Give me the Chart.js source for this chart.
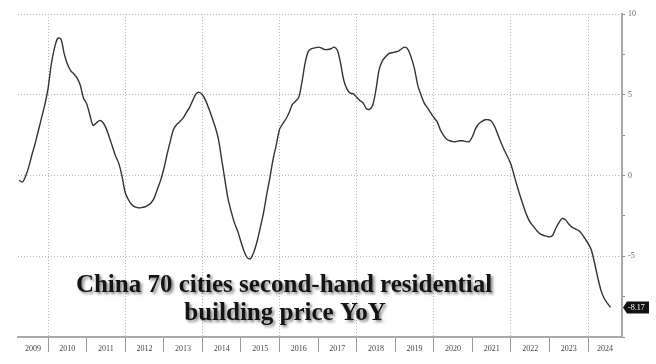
<!DOCTYPE html>
<html lang="en">
<head>
  <meta charset="UTF-8">
  <title>China 70 cities second-hand residential building price YoY</title>
  <style>
    body { margin: 0; background: #fff; }
    canvas { display: block; }
  </style>
</head>
<body>
  <canvas id="myChart" width="656" height="364"></canvas>

  <script src="https://cdn.jsdelivr.net/npm/chart.js"></script>
  <script>
    // monthly YoY %, starting April 2009
    const startYear = 2009
    const startMonth = 4
    const yoy = [
      -0.3, -0.4, -0.05, 0.55, 1.3, 2.0, 2.8, 3.6, 4.4,            // 2009
      5.4, 6.9, 7.9, 8.5, 8.45, 7.55, 6.9, 6.5, 6.3, 6.05, 5.6, 4.8, // 2010
      4.45, 3.75, 3.1, 3.25, 3.4, 3.3, 2.95, 2.4, 1.8, 1.2, 0.75, -0.05, // 2011
      -1.05, -1.5, -1.8, -1.95, -2.0, -1.99, -1.95, -1.85, -1.7, -1.4, -0.85, -0.3, // 2012
      0.4, 1.3, 2.1, 2.85, 3.15, 3.35, 3.55, 3.9, 4.2, 4.65, 5.05, 5.15, // 2013
      5.0, 4.65, 4.15, 3.6, 3.0, 2.25, 1.0, -0.25, -1.45, -2.25, -2.95, -3.45, // 2014
      -4.1, -4.7, -5.1, -5.15, -4.75, -4.1, -3.25, -2.35, -1.2, -0.15, 1.0, 1.9, // 2015
      2.85, 3.2, 3.5, 3.9, 4.4, 4.6, 4.85, 5.8, 7.0, 7.7, 7.85, 7.9, // 2016
      7.95, 7.9, 7.8, 7.8, 7.85, 7.95, 7.75, 6.95, 5.9, 5.35, 5.1, 5.05, // 2017
      4.85, 4.65, 4.5, 4.15, 4.1, 4.35, 5.3, 6.55, 7.1, 7.35, 7.55, 7.6, // 2018
      7.65, 7.7, 7.85, 7.95, 7.8, 7.3, 6.6, 5.6, 5.0, 4.5, 4.2, 3.9, // 2019
      3.6, 3.35, 2.85, 2.5, 2.25, 2.15, 2.1, 2.1, 2.15, 2.15, 2.1, 2.1, // 2020
      2.4, 2.9, 3.2, 3.35, 3.45, 3.45, 3.35, 3.0, 2.5, 2.0, 1.55, 1.15, // 2021
      0.7, 0.0, -0.7, -1.35, -1.95, -2.5, -2.9, -3.15, -3.4, -3.6, -3.7, -3.75, // 2022
      -3.8, -3.7, -3.25, -2.9, -2.65, -2.75, -3.0, -3.2, -3.3, -3.4, -3.6, -3.9, // 2023
      -4.2, -4.6, -5.4, -6.3, -7.1, -7.6, -7.9, -8.17              // 2024
    ]
    const years = [2009, 2010, 2011, 2012, 2013, 2014, 2015, 2016, 2017, 2018, 2019, 2020, 2021, 2022, 2023, 2024]
    const yTickLabels = [10, 5, 0, -5]
    const lastLabel = '-8.17'
    const titleLines = ['China 70 cities second-hand residential', 'building price YoY']

    const xMin = 2009.22
    const xMax = 2024.88

    const points = yoy.map( ( v, i ) => ( { x: startYear + ( startMonth - 1 + i ) / 12, y: v } ) )

    // year boundaries get separators, the middle of each visible year gets the label
    const boundaries = years.slice( 1 )
    const mids = years.map( yr => ( Math.max( yr, xMin ) + Math.min( yr + 1, xMax ) ) / 2 )
    const isBoundary = v => Number.isInteger( v )

    // last value tag + title
    const extras = {
      id: 'extras',
      afterDraw( chart ) {
        const { ctx, chartArea, scales } = chart
        const y = scales.y.getPixelForValue( yoy[yoy.length - 1] )
        const x0 = chartArea.right + 1
        ctx.save()
        ctx.fillStyle = '#111'
        ctx.beginPath()
        ctx.moveTo( x0, y )
        ctx.lineTo( x0 + 4, y - 6 )
        ctx.lineTo( x0 + 26, y - 6 )
        ctx.lineTo( x0 + 26, y + 6 )
        ctx.lineTo( x0 + 4, y + 6 )
        ctx.closePath()
        ctx.fill()
        ctx.fillStyle = '#fff'
        ctx.font = '8px "Liberation Serif"'
        ctx.textBaseline = 'middle'
        ctx.textAlign = 'left'
        ctx.fillText( lastLabel, x0 + 5, y + 0.5 )

        ctx.font = 'bold 25px "Liberation Serif"'
        ctx.textAlign = 'center'
        ctx.textBaseline = 'alphabetic'
        ctx.fillStyle = '#141414'
        ctx.shadowColor = 'rgba(0,0,0,0.5)'
        ctx.shadowBlur = 3
        ctx.shadowOffsetX = 2
        ctx.shadowOffsetY = 2
        ctx.fillText( titleLines[0], 284, 292 )
        ctx.fillText( titleLines[1], 285, 320 )
        ctx.restore()
      }
    }

    const config = {
      type: 'line',
      data: {
        datasets: [ {
          data: points,
          borderColor: '#333',
          borderWidth: 1.4,
          pointRadius: 0,
          tension: 0.3,
          fill: false
        } ]
      },
      options: {
        responsive: false,
        animation: false,
        devicePixelRatio: 1,
        layout: { padding: { left: 18, top: 14, right: 0, bottom: 0 } },
        plugins: { legend: { display: false }, tooltip: { enabled: false } },
        scales: {
          x: {
            type: 'linear',
            min: xMin,
            max: xMax,
            afterBuildTicks: s => {
              s.ticks = [ ...boundaries, ...mids ].sort( ( a, b ) => a - b ).map( v => ( { value: v } ) )
            },
            afterFit: s => { s.height = 27 },
            grid: {
              color: c => ( isBoundary( c.tick.value ) && c.tick.value % 2 === 0 ) ? '#b5b5b5' : 'transparent',
              tickColor: c => isBoundary( c.tick.value ) ? '#9a9a9a' : 'transparent',
              tickLength: 15,
              lineWidth: 1
            },
            border: { display: true, color: '#a8a8a8', width: 2, dash: [ 1, 2 ] },
            ticks: {
              autoSkip: false,
              maxRotation: 0,
              padding: -8,
              color: '#444',
              font: { family: 'Liberation Serif', size: 8 },
              callback: v => isBoundary( v ) ? '' : String( Math.floor( v ) )
            }
          },
          y: {
            position: 'right',
            min: -10,
            max: 10,
            afterBuildTicks: s => {
              s.ticks = [ 10, 7.5, 5, 2.5, 0, -2.5, -5, -7.5, -10 ].map( v => ( { value: v } ) )
            },
            afterFit: s => { s.width = 34 },
            grid: {
              color: c => ( c.tick.value % 5 === 0 && c.tick.value > -10 ) ? '#b5b5b5' : 'transparent',
              tickColor: '#8a8a8a',
              tickLength: 3,
              lineWidth: 1
            },
            border: { display: true, color: '#a8a8a8', width: 2, dash: [ 1, 2 ] },
            ticks: {
              padding: 3,
              color: '#666',
              font: { family: 'Liberation Serif', size: 8 },
              callback: v => yTickLabels.includes( v ) ? String( v ) : ''
            }
          }
        }
      },
      plugins: [ extras ]
    }

    new Chart( document.getElementById( 'myChart' ), config )
  </script>
</body>
</html>
